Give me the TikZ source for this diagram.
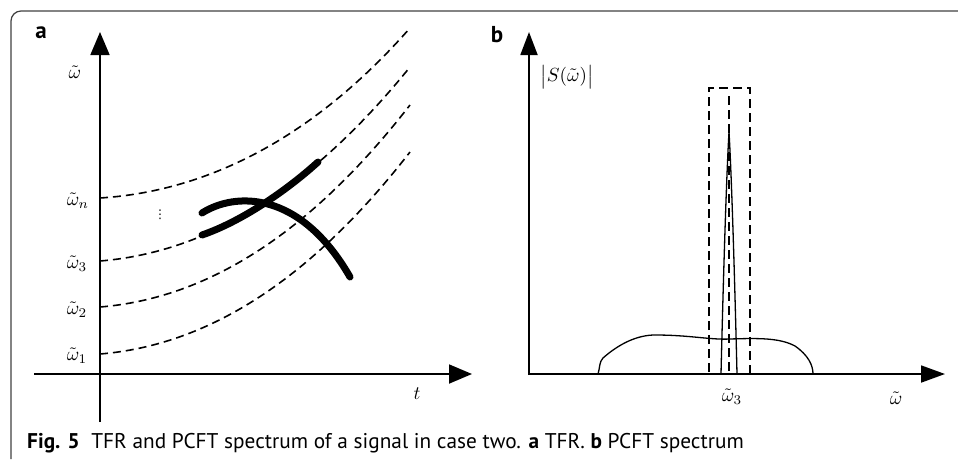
\documentclass[tikz,border=0pt]{standalone}
\usepackage{fontspec}
\setsansfont{PT Sans}
\newfontfamily\symfont{DejaVu Sans}
\usetikzlibrary{arrows.meta}

\begin{document}
\begin{tikzpicture}[x=1pt, y=-1pt,
    axis/.style={line width=1.8pt},
    tfr/.style={line width=1.6pt, dash pattern=on 8pt off 5pt},
    ridge/.style={line width=7pt, line cap=round},
    spec/.style={line width=1.3pt},
    band/.style={line width=1.5pt, dash pattern=on 9pt off 5pt},
    lbl/.style={inner sep=0pt, scale=1.9},
    panel/.style={inner sep=0pt, font=\sffamily\bfseries\fontsize{23}{26}\selectfont}]

    \useasboundingbox (0,0) rectangle (958,459);

    % frame
    \draw [line width=1.2pt, black!75, rounded corners=10pt] (11,459) -- (11,11) -- (958,11);

    % panel a: TFR
    \node [panel] (pa) at (41,33) {a};
    \draw [axis, -{Triangle[length=23pt, width=19pt]}] (34,374) -- (472,374);
    \draw [axis, -{Triangle[length=23pt, width=19pt]}] (100,422) -- (100,32);

    \draw [tfr] (100,198) .. controls (210,191) and (315,136) .. (410,28);
    \draw [tfr] (100,261) .. controls (210,252) and (312,188) .. (410,67);
    \draw [tfr] (100,307) .. controls (210,298) and (312,231) .. (410,105);
    \draw [tfr] (100,354) .. controls (210,345) and (312,278) .. (410,152);

    \draw [ridge] (202,235) .. controls (240,222) and (285,192) .. (318,162);
    \draw [ridge] (202,213) .. controls (235,192) and (300,190) .. (350,277);

    \node [lbl] (wa) at (75,72) {$\tilde{\omega}$};
    \node [lbl] (wn) at (78,201) {$\tilde{\omega}_n$};
    \node [lbl] (w3) at (77,264) {$\tilde{\omega}_3$};
    \node [lbl] (w2) at (77,310) {$\tilde{\omega}_2$};
    \node [lbl] (w1) at (77,356) {$\tilde{\omega}_1$};
    \node [inner sep=0pt, font=\symfont\fontsize{12}{12}\selectfont] (dots) at (160,215) {⋮};
    \node [lbl] (t) at (417,394) {$t$};

    % panel b: PCFT spectrum
    \node [panel] (pb) at (497,35) {b};
    \draw [axis, -{Triangle[length=24pt, width=17pt]}] (529,374) -- (945,374);
    \draw [axis, -{Triangle[length=23pt, width=17pt]}] (529,375) -- (529,32);

    \draw [spec] (598,374) .. controls (600,368) and (599,362) .. (603,358)
        .. controls (620,343) and (638,335) .. (655,335)
        .. controls (690,335) and (710,340) .. (730,339)
        .. controls (760,338) and (780,338) .. (795,346)
        .. controls (808,355) and (813,365) .. (813,374);
    \draw [spec] (721,374) .. controls (724,250) and (727,165) .. (729,132)
        .. controls (731,165) and (734,250) .. (737,374);

    \draw [band] (709,372) -- (709,88) -- (750,88) -- (750,374);
    \draw [band] (729,96) -- (729,374);

    \node [lbl] (sw) at (567,77) {$\bigl|S(\tilde{\omega})\bigr|$};
    \node [lbl] (w3b) at (732,397) {$\tilde{\omega}_3$};
    \node [lbl] (wb) at (896,398) {$\tilde{\omega}$};

    % caption
    \node [anchor=base west, inner sep=0pt, font=\sffamily\fontsize{21.3}{26}\selectfont] (caption) at (27,448)
        {\textbf{Fig. 5}\hspace{0.55em}TFR and PCFT spectrum of a signal in case two. \textbf{a} TFR. \textbf{b} PCFT spectrum};
\end{tikzpicture}
\end{document}
